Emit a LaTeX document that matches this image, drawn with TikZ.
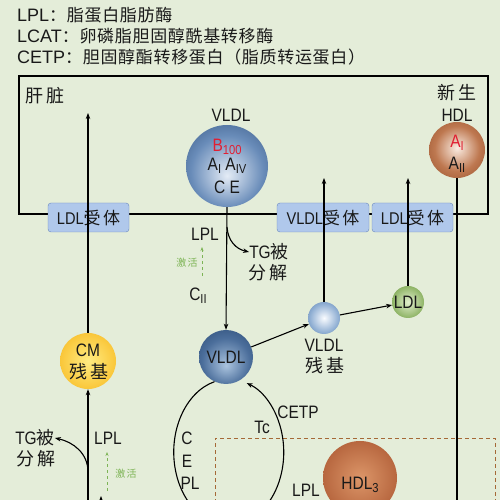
\documentclass[tikz,border=0pt]{standalone}
\usepackage{fontspec}
\setmainfont{Liberation Sans}[FakeStretch=0.86]
\newfontfamily\hdfont{Liberation Sans}
\newfontfamily\cjk{Noto Sans CJK SC}[LetterSpace=14]
\newfontfamily\cjkh{Noto Sans CJK SC}[LetterSpace=4]
\usetikzlibrary{arrows.meta}
\definecolor{bg}{RGB}{228,237,217}
\definecolor{rfill}{RGB}{176,200,235}
\definecolor{rdraw}{RGB}{105,135,190}
\definecolor{redt}{RGB}{225,30,50}
\definecolor{actg}{RGB}{125,180,85}
\definecolor{dashc}{RGB}{165,105,55}
\definecolor{txt}{RGB}{25,25,25}
\definecolor{vaIn}{RGB}{228,236,246}\definecolor{vaMid}{RGB}{105,140,185}\definecolor{vaOut}{RGB}{32,62,105}
\definecolor{vbIn}{RGB}{170,195,222}\definecolor{vbMid}{RGB}{75,110,155}\definecolor{vbOut}{RGB}{28,58,98}
\definecolor{vrIn}{RGB}{250,252,255}\definecolor{vrMid}{RGB}{145,176,212}\definecolor{vrOut}{RGB}{55,95,150}
\definecolor{ldIn}{RGB}{225,238,205}\definecolor{ldMid}{RGB}{145,182,105}\definecolor{ldOut}{RGB}{80,125,45}
\definecolor{hnIn}{RGB}{250,236,226}\definecolor{hnMid}{RGB}{190,120,80}\definecolor{hnOut}{RGB}{128,60,25}
\definecolor{h3In}{RGB}{220,150,105}\definecolor{h3Mid}{RGB}{185,105,65}\definecolor{h3Out}{RGB}{140,68,32}
\definecolor{cmIn}{RGB}{255,236,130}\definecolor{cmMid}{RGB}{250,200,60}\definecolor{cmOut}{RGB}{232,155,15}
\pgfdeclareradialshading{shVa}{\pgfpoint{0bp}{-6bp}}{color(0bp)=(vaIn); color(22bp)=(vaMid); color(46bp)=(vaOut); color(50bp)=(vaOut)}
\pgfdeclareradialshading{shVb}{\pgfpoint{0bp}{-8bp}}{color(0bp)=(vbIn); color(22bp)=(vbMid); color(46bp)=(vbOut); color(50bp)=(vbOut)}
\pgfdeclareradialshading{shVr}{\pgfpoint{0bp}{0bp}}{color(0bp)=(vrIn); color(22bp)=(vrMid); color(46bp)=(vrOut); color(50bp)=(vrOut)}
\pgfdeclareradialshading{shLd}{\pgfpoint{0bp}{0bp}}{color(0bp)=(ldIn); color(24bp)=(ldMid); color(46bp)=(ldOut); color(50bp)=(ldOut)}
\pgfdeclareradialshading{shHn}{\pgfpoint{0bp}{2bp}}{color(0bp)=(hnIn); color(20bp)=(hnMid); color(46bp)=(hnOut); color(50bp)=(hnOut)}
\pgfdeclareradialshading{shH3}{\pgfpoint{0bp}{0bp}}{color(0bp)=(h3In); color(24bp)=(h3Mid); color(46bp)=(h3Out); color(50bp)=(h3Out)}
\pgfdeclareradialshading{shCm}{\pgfpoint{0bp}{0bp}}{color(0bp)=(cmIn); color(24bp)=(cmMid); color(46bp)=(cmOut); color(50bp)=(cmOut)}
\newcommand\lblsize{\fontsize{18}{20}\selectfont}
\newcommand\sbs[1]{\raisebox{-3pt}{\fontsize{13}{13}\selectfont #1}}
\begin{document}
\begin{tikzpicture}[x=1pt,y=1pt,
  sph/.style={circle, inner sep=0pt, draw=none},
  lbl/.style={inner sep=0pt, text=txt, font=\lblsize},
  hd/.style={inner sep=0pt, anchor=west, text=txt, font=\hdfont\fontsize{18}{20}\selectfont},
  rec/.style={draw=rdraw, fill=rfill, rounded corners=3pt, minimum height=29pt, inner sep=0pt, text=txt, font=\fontsize{17}{19}\selectfont},
  ln/.style={line width=1.1pt, draw=black},
  arr/.style={ln, -{Stealth[length=6pt,width=4.5pt]}},
  act/.style={actg, dashed, line width=0.9pt, -{Stealth[length=4pt,width=3pt]}},
  actl/.style={inner sep=0pt, text=actg, font=\cjk\fontsize{10}{11}\selectfont}]
\useasboundingbox (0,0) rectangle (500,500);
\clip (0,0) rectangle (500,500);
\fill[bg] (0,0) rectangle (500,500);
% header
\node[hd] (h1) at (17,485) {LPL{\cjkh\fontsize{17}{19}\selectfont ：脂蛋白脂肪酶}};
\node[hd] (h2) at (17,464) {LCAT{\cjkh\fontsize{17}{19}\selectfont ：卵磷脂胆固醇酰基转移酶}};
\node[hd] (h3) at (17,443) {CETP{\cjkh\fontsize{17}{19}\selectfont ：胆固醇酯转移蛋白（脂质转运蛋白）}};
% liver
\draw[line width=1.1pt] (19,286) rectangle (488,424);
\node[lbl] (liver) at (45,404) {\cjk 肝脏};
\node[rec, minimum width=81pt] (r1) at (88.5,282.5) {LDL{\cjk 受体}};
\node[rec, minimum width=92pt] (r2) at (323,282.5) {VLDL{\cjk 受体}};
\node[rec, minimum width=81pt] (r3) at (412.5,282.5) {LDL{\cjk 受体}};
% dashed box
\draw[dashc, line width=0.9pt, dash pattern=on 4pt off 3pt] (215,-10) -- (215,62) -- (495,62) -- (495,-10);
% spheres
\node[sph, minimum size=82pt, shading=shVa] (vldlA) at (227,334) {};
\node[sph, minimum size=56pt, shading=shHn] (hdln) at (457,350) {};
\node[sph, minimum size=54pt, shading=shVb] (vldlB) at (226,143) {};
\node[sph, minimum size=32pt, shading=shVr] (vldlR) at (324,182) {};
\node[sph, minimum size=32pt, shading=shLd] (ldl) at (408,198) {};
\node[sph, minimum size=56pt, shading=shCm] (cm) at (88,139) {};
\node[sph, minimum size=74pt, shading=shH3] (hdl3) at (360,22) {};
% sphere texts
\node[lbl] (vlA) at (231,385) {VLDL};
\node[lbl, text=redt] (b100) at (227,353) {B\sbs{100}};
\node[lbl] (aia) at (227,334) {A\sbs{I} A\sbs{IV}};
\node[lbl] (ce) at (227,313) {C E};
\node[lbl] (xs) at (457,407) {\cjk 新生};
\node[lbl] (hdlt) at (457,385) {HDL};
\node[lbl, text=redt] (ai) at (457,357) {A\sbs{I}};
\node[lbl] (aii) at (457,335) {A\sbs{II}};
\node[lbl] (vlB) at (226,143) {VLDL};
\node[lbl] (vlR1) at (324,155) {VLDL};
\node[lbl] (vlR2) at (325,134) {\cjk 残基};
\node[lbl] (ldlt) at (408,198) {LDL};
\node[lbl] (cm1) at (88,150) {CM};
\node[lbl] (cm2) at (89,128) {\cjk 残基};
\node[lbl] (h3t) at (360,15) {HDL\sbs{3}};
% other labels
\node[lbl] (lpl1) at (205,266) {LPL};
\node[lbl] (tg1) at (269,248) {TG{\cjk 被}};
\node[lbl] (fj1) at (268,227) {\cjk 分解};
\node[actl] (jh1) at (187,237) {激活};
\node[lbl] (c2) at (198,204) {C\sbs{II}};
\node[lbl] (lpl2) at (108,62) {LPL};
\node[lbl] (tg2) at (35,62) {TG{\cjk 被}};
\node[lbl] (fj2) at (36,41) {\cjk 分解};
\node[actl] (jh2) at (126,26) {激活};
\node[lbl] (cetp) at (298,88) {CETP};
\node[lbl] (tc) at (262,73) {Tc};
\node[lbl] (lc) at (187,62) {C};
\node[lbl] (le) at (187,39) {E};
\node[lbl] (lpl3) at (190,17) {PL};
\node[lbl, anchor=base] (lpl4) at (306,3) {LPL};
% connectors
\coordinate (liverA) at (88,387);
\coordinate (cmIn) at (88,-10);
\coordinate (vrT) at (324,322);
\coordinate (ldT) at (408,322);
\coordinate (hdB) at (457,-10);
\draw[arr] (cmIn) -- (cm.south);
\draw[arr] (cm.north) -- (liverA);
\draw[arr] (vldlA.south) -- (vldlB.north);
\draw[arr] (vldlB) -- (vldlR);
\draw[arr] (vldlR) -- (ldl);
\draw[arr] (vldlR.north) -- (vrT);
\draw[arr] (ldl.north) -- (ldT);
\draw[ln] (hdln.south) -- (hdB);
\coordinate (tg1s) at (227,273);
\draw[arr] (tg1s) .. controls (228,259) and (236,251) .. (tg1.west);
\coordinate (tg2s) at (88,28);
\draw[arr] (tg2s) .. controls (88,47) and (73,58) .. (tg2.east);
\coordinate (g1a) at (202,224); \coordinate (g1b) at (202,253);
\draw[act] (g1a) -- (g1b);
\coordinate (g2a) at (107,9); \coordinate (g2b) at (107,48);
\draw[act] (g2a) -- (g2b);
\coordinate (stA) at (101,-12); \coordinate (stB) at (101,4);
\draw[arr] (stA) -- (stB);
\draw[arr] (vldlB.245) arc[start angle=105, end angle=431, x radius=55, y radius=73];
\end{tikzpicture}
\end{document}
